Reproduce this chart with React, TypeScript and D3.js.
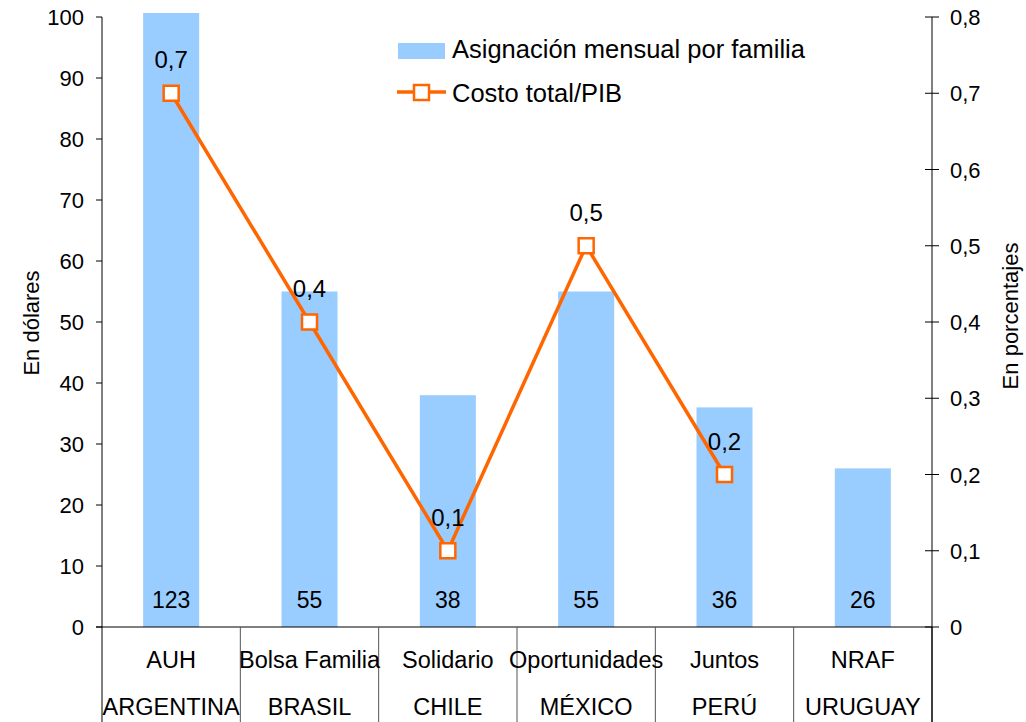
import React from 'react';
import * as d3 from 'd3';

const programs = ['AUH', 'Bolsa Familia', 'Solidario', 'Oportunidades', 'Juntos', 'NRAF'];
const countries = ['ARGENTINA', 'BRASIL', 'CHILE', 'MÉXICO', 'PERÚ', 'URUGUAY'];
const allowance = [123, 55, 38, 55, 36, 26];
const costGdp: (number | null)[] = [0.7, 0.4, 0.1, 0.5, 0.2, null];
const leftTicks = [0, 10, 20, 30, 40, 50, 60, 70, 80, 90, 100];
const rightTicks = [0, 0.1, 0.2, 0.3, 0.4, 0.5, 0.6, 0.7, 0.8];

const W = 1026;
const H = 722;
const margin = { top: 17, right: 94, bottom: 95, left: 102 };
const plotTop = 13; // bars are clipped slightly above the 100 line
const font = "'Liberation Sans', Arial, sans-serif";
const barColor = '#99CCFF';
const lineColor = '#FF6600';

const comma = (v: number) => String(+v.toFixed(1)).replace('.', ',');

export default function App() {
  const x0 = margin.left;
  const x1 = W - margin.right;
  const y0 = H - margin.bottom;

  const x = d3.scaleBand<string>().domain(programs).range([x0, x1]).paddingInner(0).paddingOuter(0);
  const yL = d3.scaleLinear().domain([0, 100]).range([y0, margin.top]);
  const yR = d3.scaleLinear().domain([0, 0.8]).range([y0, margin.top]);
  const bw = x.bandwidth() * 0.405;
  const cx = (i: number) => (x(programs[i]) as number) + x.bandwidth() / 2;

  const linePts = costGdp
    .map((v, i) => (v == null ? null : ([cx(i), yR(v)] as [number, number])))
    .filter((p): p is [number, number] => p !== null);
  const linePath = d3.line()(linePts) ?? '';

  return (
    <svg width={W} height={H} style={{ position: 'absolute', left: 0, top: 0, background: '#fff' }}
      fontFamily={font} fontSize={22}>
      <defs>
        <clipPath id="plot">
          <rect x={x0} y={plotTop} width={x1 - x0} height={y0 - plotTop} />
        </clipPath>
      </defs>

      {/* bars */}
      <g clipPath="url(#plot)">
        {allowance.map((v, i) => (
          <rect key={i} x={cx(i) - bw / 2} y={yL(v)} width={bw} height={y0 - yL(v)} fill={barColor} />
        ))}
      </g>
      {allowance.map((v, i) => (
        <text key={i} x={cx(i)} y={608} textAnchor="middle" fontSize={23}>{v}</text>
      ))}

      {/* left axis */}
      <line x1={x0} x2={x0} y1={margin.top} y2={y0} stroke="#000" />
      {leftTicks.map(t => (
        <g key={t}>
          <line x1={x0 - 6} x2={x0} y1={yL(t)} y2={yL(t)} stroke="#000" />
          <text x={x0 - 18} y={yL(t) + 8} textAnchor="end">{t}</text>
        </g>
      ))}
      <text transform="translate(39,323) rotate(-90)" textAnchor="middle">En dólares</text>

      {/* right axis */}
      <line x1={x1} x2={x1} y1={margin.top} y2={H} stroke="#000" />
      {rightTicks.map(t => (
        <g key={t}>
          <line x1={x1 - 7} x2={x1 + 7} y1={yR(t)} y2={yR(t)} stroke="#000" />
          <text x={x1 + 18} y={yR(t) + 8} textAnchor="start">{comma(t)}</text>
        </g>
      ))}
      <text transform="translate(1018,316) rotate(-90)" textAnchor="middle">En porcentajes</text>

      {/* category axis */}
      <line x1={x0 - 6} x2={x1} y1={y0} y2={y0} stroke="#000" />
      {d3.range(programs.length + 1).map(i => {
        const xx = i < programs.length ? (x(programs[i]) as number) : x1;
        return <line key={i} x1={xx} x2={xx} y1={y0} y2={H} stroke={i === 0 || i === programs.length ? '#000' : '#555'} />;
      })}
      {programs.map((p, i) => (
        <g key={p} fontSize={23.5}>
          <text x={cx(i)} y={668} textAnchor="middle">{p}</text>
          <text x={cx(i)} y={715} textAnchor="middle">{countries[i]}</text>
        </g>
      ))}

      {/* line series */}
      <path d={linePath} fill="none" stroke={lineColor} strokeWidth={3.5} />
      {linePts.map(([px, py], i) => (
        <g key={i}>
          <rect x={px - 7.5} y={py - 7.5} width={15} height={15} fill="#fff" stroke={lineColor} strokeWidth={2.5} />
          <text x={px} y={py - 25} textAnchor="middle" fontSize={24}>{comma(costGdp[i] as number)}</text>
        </g>
      ))}

      {/* legend */}
      <g fontSize={25.5}>
        <rect x={398} y={43} width={47} height={16} fill={barColor} />
        <text x={452} y={58}>Asignación mensual por familia</text>
        <line x1={397} x2={446} y1={92} y2={92} stroke={lineColor} strokeWidth={3.5} />
        <rect x={414} y={85} width={15} height={15} fill="#fff" stroke={lineColor} strokeWidth={2.5} />
        <text x={452} y={102}>Costo total/PIB</text>
      </g>
    </svg>
  );
}
